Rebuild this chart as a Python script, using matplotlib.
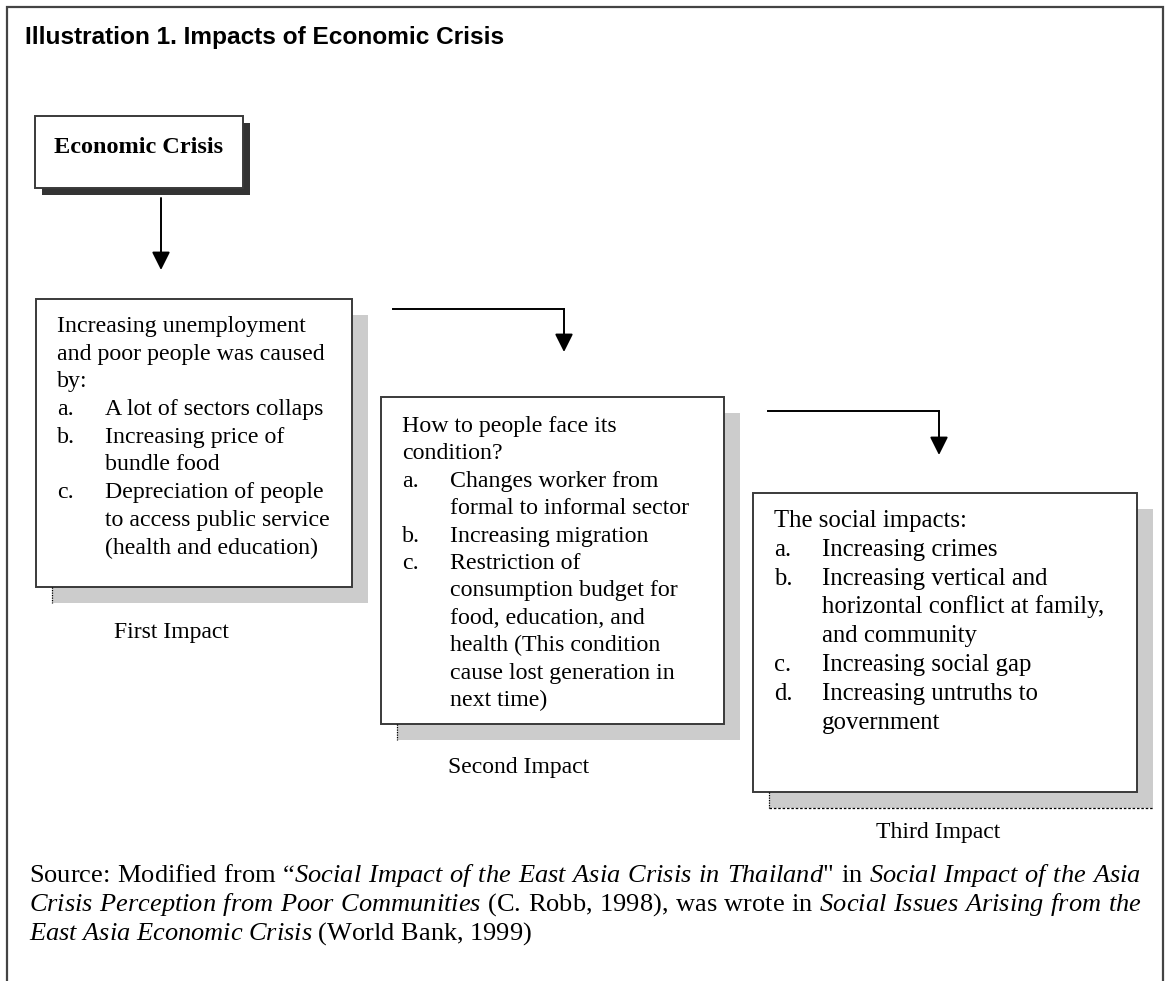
import matplotlib
matplotlib.use("Agg")
import matplotlib.pyplot as plt
from matplotlib.patches import Rectangle

# ---- texts ----
title = "Illustration 1. Impacts of Economic Crisis"
top_box_label = "Economic Crisis"

box1_head = ["Increasing unemployment", "and poor people was caused", "by:"]
box1_items = [
    ("a.", ["A lot of sectors collaps"]),
    ("b.", ["Increasing price of", "bundle food"]),
    ("c.", ["Depreciation of people", "to access public service",
            "(health and education)"]),
]

box2_head = ["How to people face its", "condition?"]
box2_items = [
    ("a.", ["Changes worker from", "formal to informal sector"]),
    ("b.", ["Increasing migration"]),
    ("c.", ["Restriction of", "consumption budget for", "food, education, and",
            "health (This condition", "cause lost generation in", "next time)"]),
]

box3_head = ["The social impacts:"]
box3_items = [
    ("a.", ["Increasing crimes"]),
    ("b.", ["Increasing vertical and", "horizontal conflict at family,",
            "and community"]),
    ("c.", ["Increasing social gap"]),
    ("d.", ["Increasing untruths to", "government"]),
]

impact_labels = ["First Impact", "Second Impact", "Third Impact"]

# source note, (text, italic) segments per line
source_lines = [
    [("Source: Modified from \u201c", False),
     ("Social Impact of the East Asia Crisis in Thailand", True),
     ("\" in ", False),
     ("Social Impact of the Asia", True)],
    [("Crisis Perception from Poor Communities", True),
     (" (C. Robb, 1998), was wrote in ", False),
     ("Social Issues Arising from the", True)],
    [("East Asia Economic Crisis", True),
     (" (World Bank, 1999)", False)],
]

# ---- layout (pixels, y downwards) ----
W, H = 1165, 981
SERIF = "Liberation Serif"
SANS = "Liberation Sans"

plt.rcParams["mathtext.fontset"] = "custom"
plt.rcParams["mathtext.rm"] = SERIF
plt.rcParams["mathtext.it"] = SERIF + ":italic"

# box: (x0, y0, x1, y1), shadow offset, first baseline, line step, font size
boxes = [
    dict(rect=(36, 299, 352, 587), off=16, base=332, step=27.7, size=17.2,
         head=box1_head, items=box1_items, label_xy=(171, 638)),
    dict(rect=(381, 397, 724, 724), off=16, base=432, step=27.4, size=17.2,
         head=box2_head, items=box2_items, label_xy=(519, 773)),
    dict(rect=(753, 493, 1137, 792), off=16, base=527, step=28.8, size=17.8,
         head=box3_head, items=box3_items, label_xy=(938, 838)),
]


def draw_box(ax, x0, y0, x1, y1, off, shadow_color, dotted=False):
    ax.add_patch(Rectangle((x0 + off, y0 + off), x1 - x0, y1 - y0,
                           facecolor=shadow_color, edgecolor="none", zorder=1))
    ax.add_patch(Rectangle((x0, y0), x1 - x0, y1 - y0, facecolor="white",
                           edgecolor="#3a3a3a", lw=1.4, zorder=2))
    if dotted:
        ax.plot([x0 + off, x0 + off], [y1, y1 + off], ls=(0, (1, 1)),
                color="black", lw=0.9, zorder=3)


def arrow(ax, x, y_from, y_to):
    ax.annotate("", xy=(x, y_to), xytext=(x, y_from),
                arrowprops=dict(arrowstyle="-|>,head_length=1.1,head_width=0.55",
                                mutation_scale=10, lw=1.4, color="black",
                                shrinkA=0, shrinkB=0), zorder=4)


def split_words(segments):
    words = [[]]
    for txt, it in segments:
        parts = txt.split(" ")
        for i, p in enumerate(parts):
            if i > 0:
                words.append([])
            if p:
                words[-1].append((p, it))
    return [w for w in words if w]


def word_str(word):
    return "".join(r"$\mathit{%s}$" % p if it else p for p, it in word)


fig = plt.figure(figsize=(W / 100, H / 100), dpi=100)
ax = fig.add_axes([0, 0, 1, 1])
ax.set_xlim(0, W)
ax.set_ylim(H, 0)
ax.axis("off")

# outer frame (open at the bottom)
ax.plot([7, 7, 1163, 1163], [H, 7, 7, H], color="#444444", lw=1.6,
        solid_joinstyle="miter", zorder=5)

ax.text(25, 44, title, family=SANS, weight="bold", fontsize=17.6,
        va="baseline", ha="left")

# top box
draw_box(ax, 35, 116, 243, 188, 7, "#333333")
ax.text(139, 153, top_box_label, family=SERIF, weight="bold", fontsize=17.5,
        ha="center", va="baseline", zorder=3)

arrow(ax, 161, 198, 270)
ax.plot([393, 564], [309, 309], color="black", lw=1.4)
arrow(ax, 564, 309, 352)
ax.plot([768, 939], [411, 411], color="black", lw=1.4)
arrow(ax, 939, 411, 455)

for b, label in zip(boxes, impact_labels):
    x0, y0, x1, y1 = b["rect"]
    off = b["off"]
    draw_box(ax, x0, y0, x1, y1, off, "#cccccc", dotted=True)
    tx = x0 + 21
    ix = tx + 48
    y = b["base"]
    for line in b["head"]:
        ax.text(tx, y, line, family=SERIF, fontsize=b["size"], va="baseline",
                zorder=3)
        y += b["step"]
    for marker, lines in b["items"]:
        ax.text(tx, y, marker, family=SERIF, fontsize=b["size"],
                va="baseline", zorder=3)
        for line in lines:
            ax.text(ix, y, line, family=SERIF, fontsize=b["size"],
                    va="baseline", zorder=3)
            y += b["step"]
    lx, ly = b["label_xy"]
    ax.text(lx, ly, label, family=SERIF, fontsize=17, ha="center",
            va="baseline", zorder=3)

# third box shadow has a dotted bottom edge as well
x0, y0, x1, y1 = boxes[2]["rect"]
off = boxes[2]["off"]
ax.plot([x0 + off, x1 + off], [y1 + off, y1 + off], ls=(0, (2, 1.5)),
        color="black", lw=0.9, zorder=3)

# justified source note, one text object per line
renderer = fig.canvas.get_renderer()
src_size = 19
left, right = 29, 1143
baselines = [882, 911, 940]


def text_width(s):
    t = ax.text(0, 0, s, family=SERIF, fontsize=src_size)
    w = t.get_window_extent(renderer).width
    t.remove()
    return w


em = text_width(r"a$\hspace{1}$a") - text_width("aa")
for n, (segs, yb) in enumerate(zip(source_lines, baselines)):
    words = [word_str(w) for w in split_words(segs)]
    line = " ".join(words)
    if n < len(source_lines) - 1:
        extra = (right - left - text_width(line)) / (len(words) - 1)
        line = (r" $\hspace{%.4f}$" % (extra / em)).join(words)
    ax.text(left, yb, line, family=SERIF, fontsize=src_size, va="baseline")

fig.savefig("out.png", dpi=100)
